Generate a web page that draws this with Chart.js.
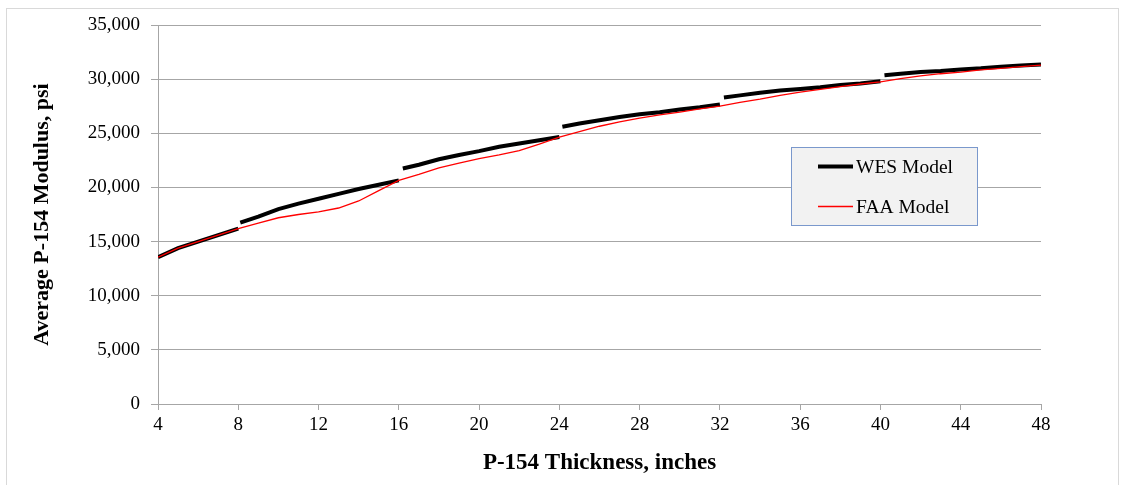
<!DOCTYPE html>
<html><head><meta charset="utf-8">
<script src="https://cdn.jsdelivr.net/npm/chart.js@4/dist/chart.umd.min.js"></script>
<style>
html,body{margin:0;padding:0;background:#fff;}
#wrap{position:relative;width:1125px;height:485px;}
#frame{position:absolute;left:6px;top:8px;width:1113px;height:480px;border:1px solid #d9d9d9;box-sizing:border-box;pointer-events:none;}
canvas{position:absolute;left:0;top:0;}
</style></head>
<body><div id="wrap"><canvas id="c" width="1125" height="485"></canvas><div id="frame"></div></div>
<script>
// WES model: six segments separated by null gaps
const wesThickness = [4,5,6,7,8, 8, 8.1,9,10,11,12,13,14,15,16, 16, 16.2,17,18,19,20,21,22,23,24, 24, 24.15,25,26,27,28,29,30,31,32, 32, 32.2,33,34,35,36,37,38,39,40, 40, 40.2,41,42,43,44,45,46,47,48];
const wesModulus   = [13550,14400,15000,15600,16200, null, 16750,17300,18000,18500,18950,19400,19850,20250,20650, null, 21750,22100,22600,23000,23350,23750,24050,24350,24650, null, 25600,25900,26200,26500,26750,26950,27200,27400,27650, null, 28300,28500,28750,28950,29100,29250,29450,29600,29800, null, 30350,30500,30650,30750,30900,31000,31150,31250,31350];
// FAA model: continuous
const faaThickness = [4,5,6,7,8,9,10,11,12,13,14,15,16,17,18,19,20,21,22,23,24,25,26,27,28,29,30,31,32,33,34,35,36,37,38,39,40,41,42,43,44,45,46,47,48];
const faaModulus   = [13550,14400,15000,15600,16200,16700,17200,17500,17750,18100,18750,19700,20650,21200,21800,22250,22650,23000,23400,24000,24650,25150,25650,26050,26400,26700,26950,27250,27500,27850,28150,28500,28800,29050,29300,29550,29750,30050,30300,30500,30650,30850,31000,31150,31300];
const seriesNames = ['WES Model','FAA Model'];
const xTitle = 'P-154 Thickness, inches';
const yTitle = 'Average P-154 Modulus, psi';

const toPts = (xs, ys) => xs.map((x,i)=>({x:x, y:ys[i]}));

const legendBox = {
  id:'legendBox',
  afterDraw(chart){
    const ctx = chart.ctx;
    ctx.save();
    ctx.fillStyle = '#f2f2f2';
    ctx.fillRect(791.5,147.5,186,78);
    ctx.strokeStyle = '#7a98cc';
    ctx.lineWidth = 1;
    ctx.strokeRect(791.5,147.5,186,78);
    const ys = [166.5, 206.5];
    chart.data.datasets.forEach((ds,i)=>{
      const y = ys[i];
      ctx.strokeStyle = ds.borderColor;
      ctx.lineWidth = ds.borderWidth;
      ctx.beginPath(); ctx.moveTo(818,y); ctx.lineTo(853,y); ctx.stroke();
      ctx.fillStyle = '#000';
      ctx.font = '19.5px "Liberation Serif"';
      ctx.textBaseline = 'alphabetic';
      ctx.textAlign = 'left';
      ctx.fillText(ds.label, 856, y + 6.5);
    });
    ctx.restore();
  }
};

const serif = '"Liberation Serif", "Times New Roman", serif';
new Chart(document.getElementById('c'), {
  type:'line',
  data:{
    datasets:[
      {label:seriesNames[0], data:toPts(wesThickness,wesModulus), borderColor:'#000000', backgroundColor:'#000000', borderWidth:4, pointRadius:0, spanGaps:false, tension:0, order:2},
      {label:seriesNames[1], data:toPts(faaThickness,faaModulus), borderColor:'#ff0000', backgroundColor:'#ff0000', borderWidth:1.3, pointRadius:0, tension:0, order:1}
    ]
  },
  options:{
    responsive:false, animation:false, devicePixelRatio:1,
    layout:{padding:{left:0, top:25, right:84, bottom:0}},
    plugins:{legend:{display:false}, tooltip:{enabled:false}},
    scales:{
      x:{
        type:'linear', min:4, max:48,
        ticks:{stepSize:4, color:'#000', font:{family:serif, size:19}, padding:4, maxRotation:0},
        grid:{drawOnChartArea:false, drawTicks:true, tickLength:6, color:'#a6a6a6'},
        border:{color:'#a6a6a6', width:1},
        title:{display:true, text:xTitle, color:'#000', font:{family:serif, size:23, weight:'bold'}, padding:{top:0, bottom:8}},
        afterFit(s){ s.height = 81; }
      },
      y:{
        type:'linear', min:0, max:35000,
        ticks:{stepSize:5000, color:'#000', font:{family:serif, size:19}, padding:11,
          callback:(v)=>Number(v).toLocaleString('en-US')},
        grid:{color:'#a6a6a6', tickLength:7, drawTicks:true},
        border:{color:'#a6a6a6', width:1},
        title:{display:true, text:yTitle, color:'#000', font:{family:serif, size:22, weight:'bold'}, padding:{top:29, bottom:0}},
        afterFit(s){ s.width = 158; }
      }
    }
  },
  plugins:[legendBox]
});
</script>
</body></html>
